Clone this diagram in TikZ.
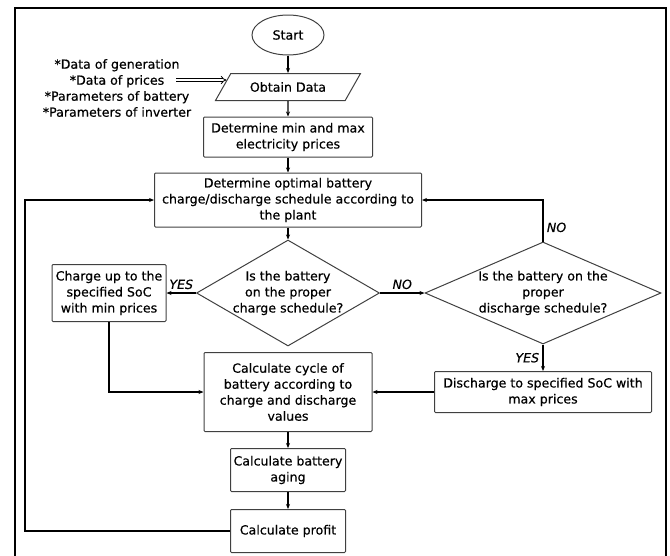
\documentclass[tikz,border=0pt]{standalone}
\usepackage{fontspec}
\setmainfont{DejaVu Sans}[FakeBold=0.5]
\usetikzlibrary{arrows.meta,positioning,calc,shapes.geometric}

\begin{document}
\begin{tikzpicture}[x=1pt,y=-1pt,
  font=\fontsize{12.6}{16}\selectfont,
  box/.style={draw=black!75,line width=1pt,rounded corners=1pt,align=center,inner sep=1pt},
  choice/.style={diamond,draw=black!75,line width=1pt,align=center,inner sep=-8pt},
  flow/.style={line width=1.1pt,-{Stealth[length=5pt,width=4pt]}},
  ans/.style={font=\fontsize{12.6}{16}\selectfont\itshape}]
  \useasboundingbox (0,0) rectangle (670,555);
  \draw[line width=2.5pt] (15,558) -- (15,8) -- (666,8) -- (666,558);

  \node[ellipse,draw=black!75,line width=1pt,minimum width=72pt,minimum height=40pt] (start) at (288,35) {Start};
  \node[trapezium,trapezium left angle=47,trapezium right angle=133,trapezium stretches body,
    draw=black!75,line width=1pt,minimum width=145pt,minimum height=27pt] (obtain) at (288,87) {Obtain Data};
  \node[align=center] (inputs) at (117,88) {*Data of generation\\*Data of prices\\*Parameters of battery\\*Parameters of inverter};
  \node[box,minimum width=169pt,minimum height=40pt] (minmax) at (288,137) {Determine min and max\\electricity prices};
  \node[box,minimum width=267pt,minimum height=54pt] (optimal) at (288,200) {Determine optimal battery\\charge/discharge schedule according to\\the plant};
  \node[choice,aspect=1.73,minimum width=183pt,minimum height=106pt] (dec1) at (288,293) {Is the battery\\on the proper\\charge schedule?};
  \node[box,minimum width=114pt,minimum height=57pt] (charge) at (109,293) {Charge up to the\\specified SoC\\with min prices};
  \node[choice,aspect=2.3,minimum width=236pt,minimum height=102pt] (dec2) at (543,293) {Is the battery on the\\proper\\discharge schedule?};
  \node[box,minimum width=168pt,minimum height=79pt] (cycle) at (288,392) {Calculate cycle of\\battery according to\\charge and discharge\\values};
  \node[box,minimum width=217pt,minimum height=41pt] (discharge) at (543,392) {Discharge to specified SoC with\\max prices};
  \node[box,minimum width=115pt,minimum height=43pt] (aging) at (288,470) {Calculate battery\\aging};
  \node[box,minimum width=115pt,minimum height=43pt] (profit) at (288,531) {Calculate profit};

  \foreach \a/\b in {start/obtain,obtain/minmax,minmax/optimal,optimal/dec1,cycle/aging,aging/profit}
    \draw[flow] (\a) -- (\b);
  \coordinate (dataend) at (176,80);
  \coordinate (dataon) at ($(obtain.bottom left corner)!0.74!(obtain.top left corner)$);
  \draw[line width=0.8pt,double,double distance=2pt,-{Implies}] (dataend) -- (dataend -| dataon);
  \draw[flow] (dec1.west) -- (charge.east) node[ans,midway,above] {YES};
  \draw[flow] (dec1.east) -- (dec2.west) node[ans,midway,above] {NO};
  \draw[flow] (dec2.north) |- (optimal.east) node[ans,pos=0.17,right] {NO};
  \draw[flow] (dec2.south) -- (discharge.north) node[ans,midway,left] {YES};
  \draw[flow] (charge.south) |- (cycle.west);
  \draw[flow] (discharge.west) -- (cycle.east);
  \coordinate (loop) at (25,531);
  \draw[flow] (profit.west) -- (loop) |- (optimal.west);
\end{tikzpicture}
\end{document}
